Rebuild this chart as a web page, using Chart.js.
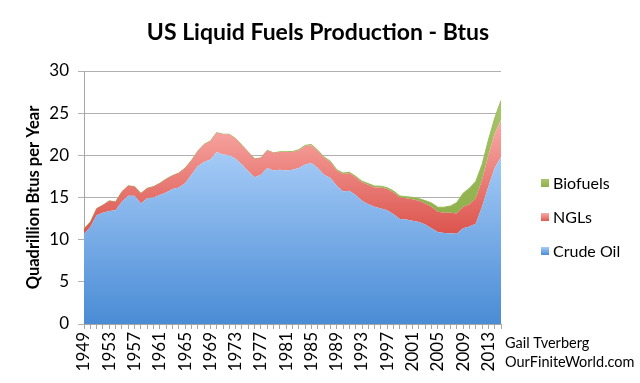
<!DOCTYPE html>
<html>
<head>
<meta charset="utf-8">
<script src="https://cdn.jsdelivr.net/npm/chart.js@4/dist/chart.umd.min.js"></script>
<style>
  html, body { margin: 0; padding: 0; background: #ffffff; }
  #wrap { width: 640px; height: 383px; position: relative; }
</style>
</head>
<body>
<div id="wrap"><canvas id="c" width="640" height="383"></canvas></div>
<script>
const years = [];
for (let y = 1949; y <= 2015; y++) years.push(String(y));

const crudeOil = [
  10.7, 11.5, 12.9, 13.2, 13.4, 13.5, 14.5, 15.2, 15.2, 14.3,
  14.9, 15.0, 15.3, 15.6, 16.0, 16.2, 16.7, 17.7, 18.7, 19.2,
  19.5, 20.4, 20.1, 20.0, 19.6, 18.9, 18.1, 17.4, 17.7, 18.5,
  18.2, 18.3, 18.2, 18.3, 18.5, 18.9, 19.1, 18.5, 17.7, 17.3,
  16.4, 15.7, 15.8, 15.3, 14.6, 14.2, 13.9, 13.7, 13.5, 13.0,
  12.45, 12.4, 12.25, 12.1, 11.8, 11.35, 10.9, 10.8, 10.75, 10.7,
  11.35, 11.55, 11.9, 13.9, 16.3, 18.5, 19.8
];
const ngls = [
  0.6, 0.6, 0.8, 0.9, 1.2, 1.0, 1.2, 1.2, 1.1, 1.2,
  1.2, 1.3, 1.4, 1.6, 1.6, 1.7, 1.8, 1.7, 1.8, 2.1,
  2.2, 2.3, 2.4, 2.5, 2.4, 2.3, 2.3, 2.2, 2.0, 2.1,
  2.1, 2.1, 2.2, 2.1, 2.1, 2.2, 2.1, 2.0, 2.0, 1.9,
  1.8, 2.1, 2.1, 2.1, 2.2, 2.3, 2.3, 2.5, 2.5, 2.6,
  2.55, 2.5, 2.55, 2.5, 2.5, 2.55, 2.4, 2.4, 2.45, 2.4,
  2.55, 2.65, 3.0, 3.2, 3.7, 4.1, 4.4
];
const biofuels = [
  0, 0, 0, 0, 0, 0, 0, 0, 0, 0,
  0, 0, 0, 0, 0, 0, 0, 0, 0, 0,
  0, 0, 0, 0, 0, 0, 0, 0, 0, 0,
  0, 0.02, 0.03, 0.05, 0.07, 0.08, 0.09, 0.1, 0.1, 0.1,
  0.1, 0.1, 0.1, 0.12, 0.13, 0.15, 0.16, 0.14, 0.16, 0.18,
  0.18, 0.2, 0.22, 0.27, 0.33, 0.45, 0.55, 0.65, 0.8, 1.3,
  1.6, 1.9, 2.0, 1.8, 1.8, 1.8, 2.3
];
const seriesNames = ['Crude Oil', 'NGLs', 'Biofuels'];
const yTicks = [0, 5, 10, 15, 20, 25, 30];
const chartTitle = 'US Liquid Fuels Production - Btus';
const yTitle = 'Quadrillion Btus per Year';
const credits = ['Gail Tverberg', 'OurFiniteWorld.com'];

const FONT = 'Lato, "Open Sans", sans-serif';

function grad(context, vTop, vBot, cTop, cBot, fallback) {
  const chart = context.chart;
  const area = chart.chartArea;
  if (!area) return fallback;
  const ys = chart.scales.y;
  const g = chart.ctx.createLinearGradient(0, ys.getPixelForValue(vTop), 0, ys.getPixelForValue(vBot));
  g.addColorStop(0, cTop);
  g.addColorStop(1, cBot);
  return g;
}

const overlay = {
  id: 'overlay',
  afterDraw(chart) {
    const c = chart.ctx;
    c.save();
    c.fillStyle = '#000';
    c.textAlign = 'center';
    c.textBaseline = 'middle';
    c.font = 'bold 23px ' + FONT;
    c.fillText(chartTitle, 318, 33);

    // legend (reversed order)
    const items = [2, 1, 0];
    const ys = [183, 217, 251];
    c.font = '16px ' + FONT;
    c.textAlign = 'left';
    items.forEach((di, i) => {
      const y = ys[i];
      const boxG = c.createLinearGradient(0, y - 4, 0, y + 4);
      const tops = ['#a6cbf7', '#f9aaa6', '#a9c66b'];
      const bots = ['#4b8dd6', '#dd5a52', '#8fb04d'];
      boxG.addColorStop(0, tops[di]);
      boxG.addColorStop(1, bots[di]);
      c.fillStyle = boxG;
      c.fillRect(541, y - 4, 8, 8);
      c.fillStyle = '#000';
      c.fillText(chart.data.datasets[di].label, 553, y + 1);
    });

    c.font = '14.5px ' + FONT;
    c.fillText(credits[0], 505, 343);
    c.fillText(credits[1], 505, 362);
    c.restore();
  }
};

new Chart(document.getElementById('c'), {
  type: 'line',
  data: {
    labels: years,
    datasets: [
      {
        label: seriesNames[0],
        data: crudeOil,
        fill: 'origin',
        borderWidth: 0,
        borderColor: 'rgba(0,0,0,0)',
        pointRadius: 0,
        tension: 0,
        backgroundColor: (ctx) => grad(ctx, 21, 0, '#a8cdf8', '#4a8cd5', '#7aaee8')
      },
      {
        label: seriesNames[1],
        data: ngls,
        fill: '-1',
        borderWidth: 0,
        borderColor: 'rgba(0,0,0,0)',
        pointRadius: 0,
        tension: 0,
        backgroundColor: (ctx) => grad(ctx, 25, 11, '#fbb0ad', '#dc564f', '#ee8580')
      },
      {
        label: seriesNames[2],
        data: biofuels,
        fill: '-1',
        borderWidth: 1,
        borderColor: '#9bbb59',
        pointRadius: 0,
        tension: 0,
        backgroundColor: (ctx) => grad(ctx, 27, 13, '#a9c66b', '#8fb04d', '#9bbb59')
      }
    ]
  },
  options: {
    responsive: false,
    animation: false,
    devicePixelRatio: 1,
    layout: { padding: { left: 0, right: 139, top: 71, bottom: 0 } },
    plugins: {
      legend: { display: false },
      title: { display: false },
      tooltip: { enabled: false }
    },
    scales: {
      x: {
        offset: false,
        grid: {
          display: true,
          drawOnChartArea: false,
          drawTicks: true,
          tickLength: 5,
          color: '#a6a6a6'
        },
        border: { display: true, color: '#a6a6a6' },
        ticks: {
          autoSkip: false,
          minRotation: 90,
          maxRotation: 90,
          padding: 3,
          color: '#000',
          font: { family: FONT, size: 17 },
          callback: function (v, i) { return (i % 4 === 0) ? years[i] : ''; }
        },
        afterFit(scale) { scale.height = 59; }
      },
      y: {
        stacked: true,
        min: 0,
        max: 30,
        afterBuildTicks(scale) { scale.ticks = yTicks.map(v => ({ value: v })); },
        grid: {
          color: '#b0b0b0',
          drawTicks: true,
          tickLength: 6
        },
        border: { display: true, color: '#a6a6a6' },
        ticks: {
          padding: 9,
          color: '#000',
          font: { family: FONT, size: 17 }
        },
        title: {
          display: true,
          text: yTitle,
          color: '#000',
          font: { family: FONT, size: 16.5, weight: 'bold' },
          padding: { top: 24, bottom: 0 }
        },
        afterFit(scale) { scale.width = 84; }
      }
    }
  },
  plugins: [overlay]
});
</script>
</body>
</html>
